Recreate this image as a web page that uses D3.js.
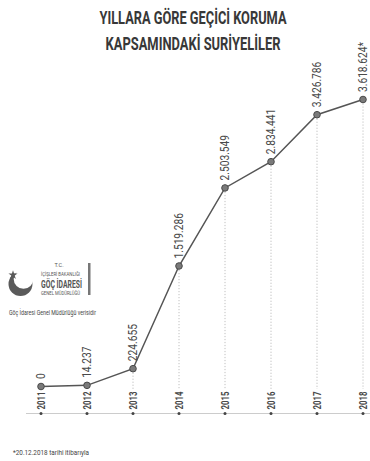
<!DOCTYPE html>
<html>
<head>
<meta charset="utf-8">
<script src="https://cdn.jsdelivr.net/npm/d3@7/dist/d3.min.js"></script>
<style>
  html, body { margin: 0; padding: 0; background: #fff; }
  svg { display: block; }
  text { font-family: Roboto, "DejaVu Sans Condensed", sans-serif; }
</style>
</head>
<body>
<svg id="chart" width="370" height="461"></svg>
<script>
// Number of Syrians under temporary protection, by year
const years = ["2011", "2012", "2013", "2014", "2015", "2016", "2017", "2018"];
const counts = [0, 14237, 224655, 1519286, 2503549, 2834441, 3426786, 3618624];
const countLabels = ["0", "14.237", "224.655", "1.519.286", "2.503.549", "2.834.441", "3.426.786", "3.618.624*"];
const titleLines = ["YILLARA GÖRE GEÇİCİ KORUMA", "KAPSAMINDAKİ SURİYELİLER"];
const sourceNote = "Göç İdaresi Genel Müdürlüğü verisidir";
const footNote = "*20.12.2018 tarihi itibarıyla";
const logoLines = ["T.C.", "İÇİŞLERİ BAKANLIĞI", "GÖÇ İDARESİ", "GENEL MÜDÜRLÜĞÜ"];

const data = years.map((y, i) => ({ year: y, value: counts[i], label: countLabels[i] }));

const svg = d3.select("#chart");
const baseY = 413.5;      // axis line carrying the year bullets
const zeroY = 386.5;      // value 0 sits just above the rotated year text
const dropEnd = 389;      // dotted drop lines stop at the year text

const x = d3.scalePoint().domain(years).range([41, 363]);
const y = d3.scaleLinear().domain([0, d3.max(counts)]).range([zeroY, 99.5]);

// Title (condensed bold)
const titleWidths = [187, 175];
svg.append("g").selectAll("text").data(titleLines).join("text")
  .attr("x", 193).attr("y", (d, i) => 24 + i * 26)
  .attr("text-anchor", "middle")
  .attr("font-size", 18).attr("font-weight", "bold")
  .attr("fill", "#383838")
  .attr("textLength", (d, i) => titleWidths[i])
  .attr("lengthAdjust", "spacingAndGlyphs")
  .text(d => d);

// Axis line
svg.append("line")
  .attr("x1", 26).attr("x2", 370)
  .attr("y1", baseY).attr("y2", baseY)
  .attr("stroke", "#cccccc").attr("stroke-width", 1);

// Dotted drop lines from each point down to the year text
svg.append("g").selectAll("line")
  .data(data.filter(d => y(d.value) + 4 < dropEnd)).join("line")
  .attr("x1", d => x(d.year)).attr("x2", d => x(d.year))
  .attr("y1", d => y(d.value) + 4).attr("y2", dropEnd)
  .attr("stroke", "#b0b0b0").attr("stroke-width", 0.8)
  .attr("stroke-dasharray", "1.2,1.8");

// Year labels with a bullet on the axis line
const yearG = svg.append("g");
yearG.selectAll("circle").data(data).join("circle")
  .attr("cx", d => x(d.year)).attr("cy", baseY).attr("r", 1.5)
  .attr("fill", "#444");
yearG.selectAll("text").data(data).join("text")
  .attr("transform", d => `translate(${x(d.year) + 3.6},${baseY - 4}) rotate(-90) scale(0.78,1)`)
  .attr("font-size", 10).attr("font-weight", "bold")
  .attr("fill", "#4a4a4a")
  .text(d => d.year);

// Line
svg.append("path").datum(data)
  .attr("fill", "none").attr("stroke", "#555").attr("stroke-width", 1.5)
  .attr("d", d3.line().x(d => x(d.year)).y(d => y(d.value)));

// Points
svg.append("g").selectAll("circle").data(data).join("circle")
  .attr("cx", d => x(d.year)).attr("cy", d => y(d.value)).attr("r", 3.3)
  .attr("fill", "#7a7a7a").attr("stroke", "#4a4a4a").attr("stroke-width", 1);

// Value labels (rotated, reading upward)
svg.append("g").selectAll("text").data(data).join("text")
  .attr("transform", d => `translate(${x(d.year) + 4},${y(d.value) - 7.5}) rotate(-90) scale(0.85,1)`)
  .attr("font-size", 12)
  .attr("fill", "#4a4a4a")
  .text(d => d.label);

// Logo block: crescent and star, agency name, divider bar, source line
const defs = svg.append("defs");
const mask = defs.append("mask").attr("id", "crescent-mask");
mask.append("rect").attr("x", 0).attr("y", 250).attr("width", 120).attr("height", 60).attr("fill", "#fff");
mask.append("circle").attr("cx", 23.5).attr("cy", 279).attr("r", 9.8).attr("fill", "#000");

const logo = svg.append("g");
logo.append("circle").attr("cx", 20.5).attr("cy", 284).attr("r", 12)
  .attr("fill", "#5a5a5a").attr("mask", "url(#crescent-mask)");
const star = d3.symbol().type(d3.symbolStar).size(26);
logo.append("path").attr("d", star()).attr("transform", "translate(13,275)").attr("fill", "#5a5a5a");

const logoText = logo.append("g").attr("fill", "#555");
logoText.append("text").attr("x", 59).attr("y", 267).attr("text-anchor", "middle")
  .attr("font-size", 5.5).text(logoLines[0]);
logoText.append("text").attr("x", 41).attr("y", 276).attr("font-size", 5.5)
  .attr("textLength", 39).attr("lengthAdjust", "spacingAndGlyphs").text(logoLines[1]);
logoText.append("text").attr("x", 41).attr("y", 288).attr("font-size", 11).attr("font-weight", "bold")
  .attr("textLength", 41).attr("lengthAdjust", "spacingAndGlyphs").text(logoLines[2]);
logoText.append("text").attr("x", 41).attr("y", 295).attr("font-size", 5.5)
  .attr("textLength", 39).attr("lengthAdjust", "spacingAndGlyphs").text(logoLines[3]);
logo.append("rect").attr("x", 88).attr("y", 263).attr("width", 2.5).attr("height", 32).attr("fill", "#777");
logo.append("text").attr("x", 9).attr("y", 315).attr("font-size", 6.5).attr("fill", "#444")
  .attr("textLength", 87).attr("lengthAdjust", "spacingAndGlyphs").text(sourceNote);

// Footnote
svg.append("text").attr("x", 13).attr("y", 455).attr("font-size", 7).attr("fill", "#444")
  .attr("textLength", 76).attr("lengthAdjust", "spacingAndGlyphs").text(footNote);
</script>
</body>
</html>
